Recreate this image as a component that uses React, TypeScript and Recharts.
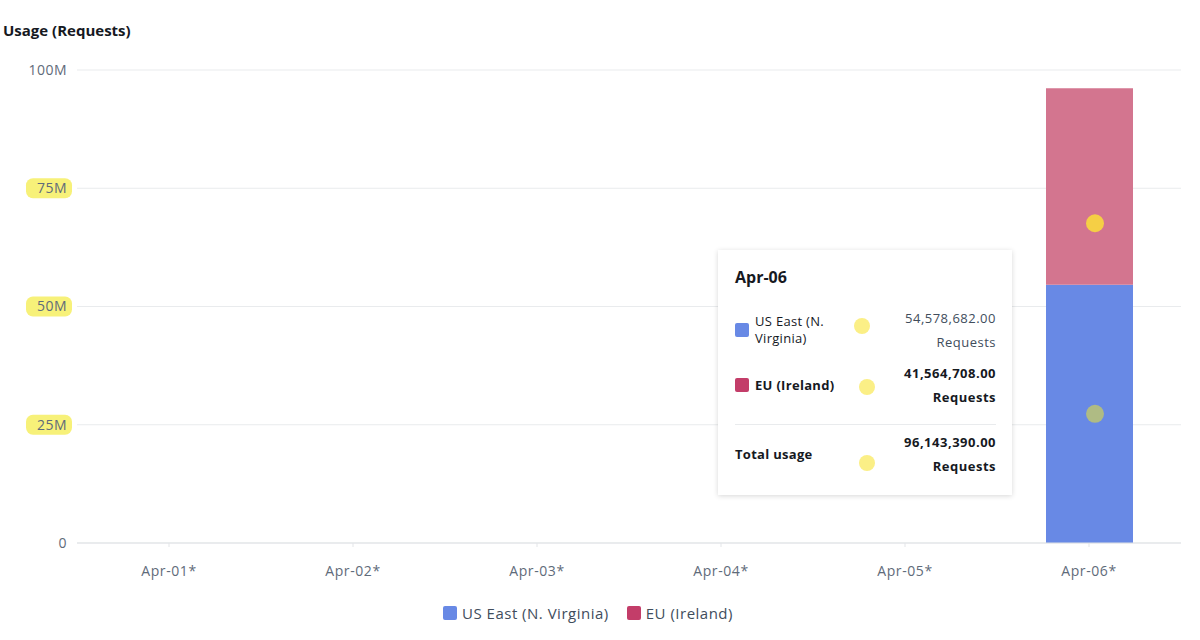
import React from 'react';
import { BarChart, Bar, XAxis, YAxis, CartesianGrid, Tooltip, Legend, ReferenceDot } from 'recharts';

const dates = ['Apr-01*', 'Apr-02*', 'Apr-03*', 'Apr-04*', 'Apr-05*', 'Apr-06*'];
const usEast = [0, 0, 0, 0, 0, 54578682];
const euIreland = [0, 0, 0, 0, 0, 41564708];
const yTicks = [0, 25000000, 50000000, 75000000, 100000000];
const highlightedTicks = [25000000, 50000000, 75000000];
const seriesNames = ['US East (N. Virginia)', 'EU (Ireland)'];

const BLUE = '#6889e5';
const PINK_BAR = '#d3758f';
const PINK = '#c33d69';
const FONT = '"Open Sans", "Noto Sans", sans-serif';

const data = dates.map((d, i) => ({ date: d, usEast: usEast[i], eu: euIreland[i] }));

const fmtTick = (v: number) => (v === 0 ? '0' : `${v / 1000000}M`);
const fmtNum = (v: number) =>
  v.toLocaleString('en-US', { minimumFractionDigits: 2, maximumFractionDigits: 2 });

const YTick = (props: any) => {
  const { x, y, payload } = props;
  const hl = highlightedTicks.includes(payload.value);
  return (
    <g>
      {hl && <rect x={x - 41} y={y - 10} width={46} height={20} rx={7} fill="#f6f06a" opacity={0.9} />}
      <text x={x} y={y} dy="0.35em" textAnchor="end" fill="#5f6b7a" fontSize={14} letterSpacing={0.5} fontFamily={FONT}>
        {fmtTick(payload.value)}
      </text>
    </g>
  );
};

const TooltipContent = (props: any) => {
  const idx = dates.length - 1;
  const total = usEast[idx] + euIreland[idx];
  const label = dates[idx].replace('*', '');
  const dot = (left: number, top: number) => (
    <div style={{ position: 'absolute', left, top, width: 16, height: 16, borderRadius: 8, background: '#fbef86' }} />
  );
  const row = (color: string | null, name: string, value: number, bold: boolean, mt: number) => (
    <div style={{ display: 'flex', justifyContent: 'space-between', alignItems: 'center', marginTop: mt, height: 48 }}>
      <div style={{ display: 'flex', alignItems: 'center' }}>
        {color && <div style={{ width: 14, height: 14, background: color, borderRadius: 2, marginRight: 6 }} />}
        <div style={{ width: 84, fontSize: 13, letterSpacing: 0.3, lineHeight: '17px', fontWeight: bold ? 700 : 400, color: '#16191f' }}>{name}</div>
      </div>
      <div style={{ textAlign: 'right', fontSize: 13, letterSpacing: 0.5, lineHeight: '24px', fontWeight: bold ? 700 : 400, color: bold ? '#16191f' : '#414d5c' }}>
        <div>{fmtNum(value)}</div>
        <div>Requests</div>
      </div>
    </div>
  );
  return (
    <div
      style={{
        position: 'relative',
        width: 294,
        height: 245,
        boxSizing: 'border-box',
        background: '#fff',
        boxShadow: '0 1px 5px rgba(0,0,0,0.16)',
        padding: '16px 16px 18px 17px',
        fontFamily: FONT,
      }}
    >
      <div style={{ fontSize: 16, lineHeight: '22px', fontWeight: 700, color: '#16191f' }}>{label}</div>
      {row(BLUE, seriesNames[0], usEast[idx], false, 18)}
      {row(PINK, seriesNames[1], euIreland[idx], true, 7)}
      <div style={{ height: 1, background: '#e9ebed', marginTop: 15 }} />
      {row(null, 'Total usage', total, true, 5)}
      {dot(136, 68)}
      {dot(141, 129)}
      {dot(141, 205)}
    </div>
  );
};

const LegendContent = () => (
  <div
    style={{
      display: 'flex',
      alignItems: 'flex-start',
      boxSizing: 'border-box',
      height: 50,
      paddingLeft: 443,
      paddingTop: 13,
      fontFamily: FONT,
      fontSize: 14,
      letterSpacing: 0.5,
      color: '#414d5c',
    }}
  >
    {[BLUE, PINK].map((c, i) => (
      <div key={i} style={{ display: 'flex', alignItems: 'center', marginRight: 18, height: 20 }}>
        <div style={{ width: 14, height: 14, background: c, borderRadius: 2, marginRight: 5 }} />
        <span style={{ fontSize: 15, lineHeight: '20px' }}>{seriesNames[i]}</span>
      </div>
    ))}
  </div>
);

const BarDot = (fill: string) => (p: any) => <circle cx={p.cx + 6} cy={p.cy} r={9} fill={fill} />;

export default function App() {
  return (
    <div style={{ position: 'absolute', left: 0, top: 0, width: 1200, height: 640, background: '#fff' }}>
      <div style={{ position: 'absolute', left: 3, top: 20, fontFamily: FONT, fontSize: 15, fontWeight: 700, color: '#16191f' }}>
        Usage (Requests)
      </div>
      <BarChart width={1200} height={640} data={data} margin={{ top: 70, right: 19, left: 10, bottom: 0 }}>
        <CartesianGrid vertical={false} stroke="#e9ebed" />
        <XAxis
          dataKey="date"
          height={47}
          tickSize={4}
          tickMargin={19}
          axisLine={{ stroke: '#dfe2e5' }}
          tickLine={{ stroke: '#e3e5e8' }}
          tick={{ fill: '#5f6b7a', fontSize: 14, fontFamily: FONT, letterSpacing: 0.6 }}
        />
        <YAxis
          width={67}
          domain={[0, 100000000]}
          ticks={yTicks}
          axisLine={false}
          tickLine={false}
          tickSize={0}
          tickMargin={10}
          tick={<YTick />}
        />
        <Tooltip
          active
          defaultIndex={5}
          position={{ x: 718, y: 250 }}
          cursor={false}
          isAnimationActive={false}
          content={<TooltipContent />}
          wrapperStyle={{ outline: 'none' }}
        />
        <Legend verticalAlign="bottom" content={<LegendContent />} wrapperStyle={{ left: 0, width: 1200 }} />
        <Bar dataKey="usEast" stackId="a" fill={BLUE} barSize={87} isAnimationActive={false} />
        <Bar dataKey="eu" stackId="a" fill={PINK_BAR} barSize={87} isAnimationActive={false} />
        <ReferenceDot x="Apr-06*" y={67600000} shape={BarDot('#f5cf45')} />
        <ReferenceDot x="Apr-06*" y={27300000} shape={BarDot('#afbb84')} />
      </BarChart>
    </div>
  );
}
